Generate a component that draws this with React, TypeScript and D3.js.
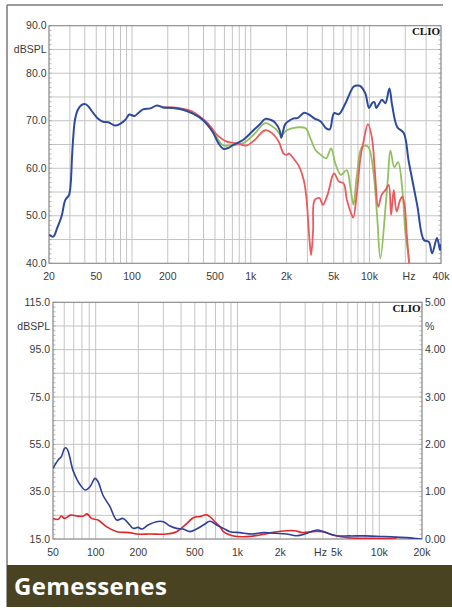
import React from "react";
import * as d3 from "d3";

// ---------- DATA ----------
// Top chart: frequency response (Hz, dBSPL)
const topBlue: [number, number][] = [
  [20, 46.0], [21.7, 45.6], [23.5, 47.5], [25.6, 50.0], [27.4, 53.3], [29.5, 54.4], [30.5, 57], [31.2, 62],
  [32, 66.5], [33.1, 70.2], [35, 72.3], [37.5, 73.3], [40.5, 73.5], [43, 73.0], [46, 72.0], [51, 70.6],
  [57, 69.8], [63, 69.7], [72, 69.0], [80, 69.4], [88, 70.2], [95, 71.3], [105, 71.0], [115, 71.8],
  [124, 72.4], [143, 72.6], [162, 73.2], [183, 72.8], [222, 72.7], [270, 72.3], [320, 71.6], [376, 70.6],
  [430, 69.2], [484, 67.4], [533, 65.3], [587, 64.1], [650, 64.3], [713, 64.9], [866, 66.0], [1053, 68.0],
  [1200, 69.3], [1328, 70.4], [1500, 70.1], [1616, 69.5], [1750, 68.0], [1806, 66.4], [1880, 68.0],
  [1953, 69.3], [2308, 70.5], [2500, 70.6], [2812, 71.7], [3100, 71.3], [3424, 70.5], [3900, 69.8],
  [4320, 68.4], [4630, 68.2], [5030, 71.6], [5530, 71.4], [6280, 73.7], [7370, 77.2], [8000, 77.4],
  [8380, 77.3], [9200, 75.8], [9920, 72.7], [10500, 73.7], [11000, 73.9], [11400, 72.7], [12000, 73.5],
  [12750, 74.4], [13600, 73.7], [14700, 76.8], [15500, 73.3], [17100, 68.7], [19430, 67.4], [21400, 61.4],
  [25200, 52.3], [28700, 44.9], [31600, 44.5], [33700, 42.1], [37000, 45.3], [39300, 42.8], [40000, 44.0],
];

const topRed: [number, number][] = [
  [183, 72.8], [222, 72.8], [270, 72.5], [320, 72.0], [376, 70.8], [430, 69.6], [484, 68.0], [530, 66.8],
  [627, 65.6], [738, 65.3], [925, 64.8], [1085, 66.0], [1200, 67.2], [1328, 68.0], [1510, 67.4],
  [1720, 65.6], [1890, 63.1], [2010, 62.8], [2100, 63.1], [2300, 62.0], [2540, 60.5], [2810, 57.2],
  [2950, 53.5], [3100, 46], [3220, 41.7], [3350, 47], [3450, 53.3], [3800, 53.7], [4040, 52.3],
  [4430, 54.4], [5020, 58.9], [5530, 57.2], [6060, 56.8], [6430, 53.5], [7000, 50.5], [7300, 49.6],
  [7800, 54.5], [8380, 62.1], [8900, 65.6], [9700, 69.3], [10500, 66.3], [11100, 59.3], [11850, 51.9],
  [12650, 54.4], [13600, 55.4], [14500, 56.5], [15200, 50.2], [16000, 55.4], [16900, 50.9], [18100, 53.3],
  [18900, 54.0], [19800, 52], [20600, 46], [21400, 41], [21800, 38],
];

const topGreen: [number, number][] = [
  [183, 72.8], [222, 72.7], [270, 72.3], [320, 71.6], [376, 70.6], [430, 69.3], [484, 67.7], [533, 66.0],
  [587, 64.8], [713, 64.9], [866, 65.3], [1053, 67.0], [1328, 69.5], [1616, 68.3], [1806, 67.0],
  [2010, 68.0], [2460, 68.6], [2900, 68.4], [3180, 66.3], [3520, 63.8], [3900, 62.8], [4330, 62.1],
  [4740, 64.2], [5200, 60.7], [5750, 58.6], [6430, 59.6], [6900, 56], [7330, 52.3], [7800, 58.2],
  [8650, 64.5], [9500, 64.7], [10000, 64.0], [10850, 58.7], [11600, 49.8], [12350, 41.0], [13650, 51.9],
  [14300, 58], [15000, 63.7], [16200, 60.2], [17400, 61.3], [18900, 55.5], [20000, 46.7], [21400, 41],
  [21800, 38],
];

// Bottom chart: distortion (Hz, dBSPL)
const botBlue: [number, number][] = [
  [50, 44.9], [54.4, 48.4], [57.3, 49.8], [60.3, 53.3], [62, 53.5], [64.1, 51.9], [69.1, 44.1], [74, 40],
  [77.9, 37.8], [84.5, 35.7], [91.1, 37.1], [99, 40.6], [104, 39.2], [112.3, 33.6], [126, 28.7],
  [140.8, 23.0], [156, 23.7], [174, 20.9], [184, 19.5], [199, 19.9], [211, 19.2], [234, 20.9], [268, 22.3],
  [300, 22.3], [334, 20.5], [372, 19.5], [414, 19.2], [461, 18.1], [515, 19.2], [575, 20.9], [640, 22.5],
  [713, 20.9], [795, 19.5], [886, 18.1], [1040, 17.7], [1270, 17.1], [1530, 17.7], [1850, 17.4],
  [2210, 17.1], [2600, 16.4], [2980, 17.1], [3400, 18.4], [3700, 18.8], [4200, 17.7], [5000, 16.4],
  [6170, 16.3], [8000, 16.3], [11000, 16.0], [15600, 15.6], [19600, 15.0], [20000, 15.0],
];

const botRed: [number, number][] = [
  [50, 23.7], [54.4, 23.3], [57.3, 24.7], [60.3, 23.7], [66.5, 25.1], [73.6, 24.7], [81.8, 24.7],
  [87, 25.6], [93.5, 23.7], [104, 23.0], [119, 20.2], [141, 18.1], [174, 17.7], [194, 17.1], [241, 17.1],
  [317, 17.1], [372, 18.1], [438, 21.5], [488, 24.0], [543, 24.5], [606, 25.2], [650, 24.0], [700, 22],
  [751, 20.3], [795, 18.1], [935, 16.3], [1160, 16.0], [1440, 16.7], [1785, 17.8], [2210, 18.5],
  [2530, 18.5], [2890, 17.7], [3400, 18.1], [4000, 18.1], [4700, 16.7], [5820, 15.6], [7600, 15.3],
  [9000, 15.3], [13250, 15.0],
];

// Tick labels
const topXTicks = [20, 50, 100, 200, 500, 1000, 2000, 5000, 10000, 21500, 40000];
const topXLabels = ["20", "50", "100", "200", "500", "1k", "2k", "5k", "10k", "Hz", "40k"];
const topYTicks = [90, 80, 70, 60, 50, 40];
const botXTicks = [50, 100, 200, 500, 1000, 2000, 3850, 5000, 10000, 20000];
const botXLabels = ["50", "100", "200", "500", "1k", "2k", "Hz", "5k", "10k", "20k"];
const botYTicks = [115, 95, 75, 55, 35, 15];
const botRTicks = [5, 4, 3, 2, 1, 0];

// ---------- LAYOUT ----------
const topX = d3.scaleLog().domain([20, 40000]).range([49, 441]);
const topY = d3.scaleLinear().domain([40, 90]).range([263.3, 25.7]);
const botX = d3.scaleLog().domain([50, 20000]).range([53, 422]);
const botY = d3.scaleLinear().domain([15, 115]).range([539, 302.3]);
const botR = d3.scaleLinear().domain([0, 5]).range([539, 302.3]);

const font = "'Liberation Sans', Arial, sans-serif";
const gridColor = "#c4c4c4";
const labelColor = "#3a3a3a";

function logGrid(lo: number, hi: number): number[] {
  const out: number[] = [];
  for (let dec = 1; dec <= 100000; dec *= 10) {
    for (let m = 1; m <= 9; m++) {
      const v = m * dec;
      if (v >= lo - 1e-6 && v <= hi + 1e-6) out.push(v);
    }
  }
  return out;
}

const curve = d3.curveCatmullRom.alpha(0.5);

function Panel(props: {
  x: d3.ScaleLogarithmic<number, number>;
  y: d3.ScaleLinear<number, number>;
  ymin: number; ymax: number; ystep: number; minorStep: number;
  id: string;
  children?: React.ReactNode;
}) {
  const { x, y, ymin, ymax, ystep, minorStep, id } = props;
  const [x0, x1] = x.range();
  const [yb, yt] = y.range();
  const hLines = d3.range(ymin, ymax + 0.001, ystep);
  const minors = d3.range(ymin, ymax + 0.001, minorStep);
  const vLines = logGrid(x.domain()[0], x.domain()[1]);
  return (
    <g>
      <defs>
        <clipPath id={id}>
          <rect x={x0} y={yt} width={x1 - x0} height={yb - yt} />
        </clipPath>
      </defs>
      <rect x={x0} y={yt} width={x1 - x0} height={yb - yt} fill="#fff" />
      {hLines.map((v) => (
        <line key={"h" + v} x1={x0} x2={x1} y1={y(v)} y2={y(v)} stroke={gridColor} strokeWidth={1} />
      ))}
      {vLines.map((v) => (
        <line key={"v" + v} x1={x(v)} x2={x(v)} y1={yt} y2={yb} stroke={gridColor} strokeWidth={1} />
      ))}
      {minors.map((v) => (
        <g key={"m" + v}>
          <line x1={x0} x2={x0 + 2.5} y1={y(v)} y2={y(v)} stroke="#999" strokeWidth={0.7} />
          <line x1={x1} x2={x1 - 2.5} y1={y(v)} y2={y(v)} stroke="#999" strokeWidth={0.7} />
        </g>
      ))}
      <rect x={x0} y={yt} width={x1 - x0} height={yb - yt} fill="none" stroke="#8a8a8a" strokeWidth={1} />
      <g clipPath={`url(#${id})`}>{props.children}</g>
    </g>
  );
}

export default function App() {
  const topLine = d3
    .line<[number, number]>()
    .x((d) => topX(d[0]))
    .y((d) => topY(d[1]))
    .curve(curve);
  const botLine = d3
    .line<[number, number]>()
    .x((d) => botX(d[0]))
    .y((d) => botY(d[1]))
    .curve(curve);

  const blue = "#2e4a9e";
  const red = "#ea5a5c";
  const green = "#92c05e";
  const botBlueC = "#2f3f9c";
  const botRedC = "#e0262b";

  return (
    <svg
      width={452}
      height={610}
      style={{ position: "absolute", left: 0, top: 0, background: "#fff" }}
      fontFamily={font}
    >
      <rect x={0} y={0} width={452} height={610} fill="#fff" />
      {/* outer frame */}
      <line x1={7} x2={443} y1={5} y2={5} stroke="#7a7a7a" strokeWidth={1.5} />
      <line x1={7} x2={7} y1={5} y2={607} stroke="#7a7a7a" strokeWidth={1.5} />

      {/* ---------- TOP CHART ---------- */}
      <Panel x={topX} y={topY} ymin={40} ymax={90} ystep={5} minorStep={1} id="clipTop">
        <path d={topLine(topGreen) || ""} fill="none" stroke={green} strokeWidth={1.8} />
        <path d={topLine(topRed) || ""} fill="none" stroke={red} strokeWidth={1.8} />
        <path d={topLine(topBlue) || ""} fill="none" stroke={blue} strokeWidth={2} />
      </Panel>
      {topYTicks.map((v) => (
        <text key={"ty" + v} x={46.5} y={topY(v)} dy="0.35em" textAnchor="end" fontSize={10.5} fill={labelColor}>
          {v.toFixed(1)}
        </text>
      ))}
      <text x={46.5} y={topY(85)} dy="0.35em" textAnchor="end" fontSize={10.5} fill={labelColor}>
        dBSPL
      </text>
      {topXTicks.map((v, i) => (
        <text key={"tx" + v} x={topX(v)} y={276} dy="0.35em" textAnchor="middle" fontSize={10.5} fill={labelColor}>
          {topXLabels[i]}
        </text>
      ))}
      <text x={440} y={35} textAnchor="end" fontSize={11} fontWeight="bold" fontFamily="'Liberation Serif', 'Times New Roman', serif" fill="#111">
        CLIO
      </text>

      {/* ---------- BOTTOM CHART ---------- */}
      <Panel x={botX} y={botY} ymin={15} ymax={115} ystep={10} minorStep={2} id="clipBot">
        <path d={botLine(botRed) || ""} fill="none" stroke={botRedC} strokeWidth={1.6} />
        <path d={botLine(botBlue) || ""} fill="none" stroke={botBlueC} strokeWidth={1.6} />
      </Panel>
      {botYTicks.map((v) => (
        <text key={"by" + v} x={50} y={botY(v)} dy="0.35em" textAnchor="end" fontSize={10.5} fill={labelColor}>
          {v.toFixed(1)}
        </text>
      ))}
      <text x={50} y={botY(105)} dy="0.35em" textAnchor="end" fontSize={10.5} fill={labelColor}>
        dBSPL
      </text>
      {botRTicks.map((v) => (
        <text key={"br" + v} x={425} y={botR(v)} dy="0.35em" textAnchor="start" fontSize={10.5} fill={labelColor}>
          {v.toFixed(2)}
        </text>
      ))}
      <text x={425} y={botR(4.5)} dy="0.35em" textAnchor="start" fontSize={10.5} fill={labelColor}>
        %
      </text>
      {botXTicks.map((v, i) => (
        <text key={"bx" + v} x={botX(v)} y={552} dy="0.35em" textAnchor="middle" fontSize={10.5} fill={labelColor}>
          {botXLabels[i]}
        </text>
      ))}
      <text x={420.5} y={311.5} textAnchor="end" fontSize={11} fontWeight="bold" fontFamily="'Liberation Serif', 'Times New Roman', serif" fill="#111">
        CLIO
      </text>

      {/* ---------- FOOTER ---------- */}
      <rect x={7} y={565} width={445} height={42} fill="#4a4321" />
      <text x={14} y={594.5} fontSize={24} fontWeight="bold" fontFamily="'Open Sans', sans-serif" fill="#fff" letterSpacing={0.4}>
        Gemessenes
      </text>
    </svg>
  );
}
